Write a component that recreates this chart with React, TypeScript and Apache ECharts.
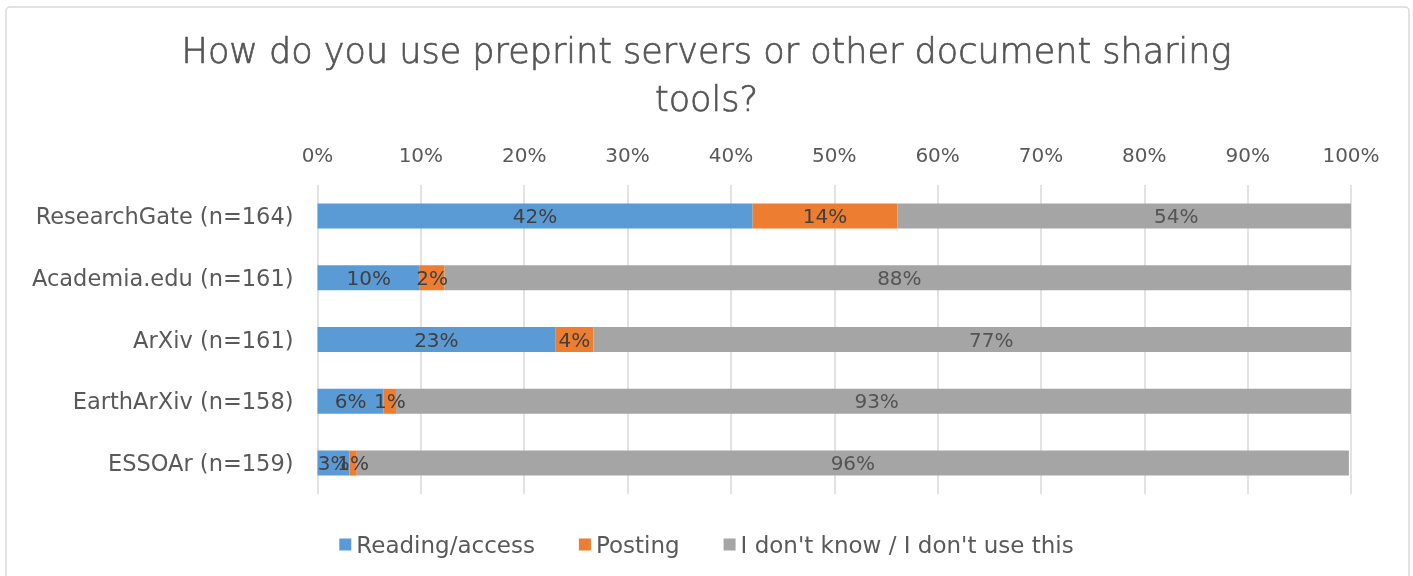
import React, { useEffect, useRef } from "react";
import * as echarts from "echarts";

const categories = [
  "ResearchGate (n=164)",
  "Academia.edu (n=161)",
  "ArXiv (n=161)",
  "EarthArXiv (n=158)",
  "ESSOAr (n=159)",
];
const reading = [42.1, 9.9, 23.0, 6.4, 3.1];
const posting = [14.0, 2.4, 3.7, 1.2, 0.7];
const dontUse = [54, 88, 77, 93, 96];
const seriesNames = ["Reading/access", "Posting", "I don't know / I don't use this"];
const titleText = "How do you use preprint servers or other document sharing\ntools?";

const FONT = "DejaVu Sans";
const TEXT = "#595959";
const LABEL = "#404040";

export default function App() {
  const ref = useRef<HTMLDivElement>(null);
  useEffect(() => {
    if (!ref.current) return;
    const chart = echarts.init(ref.current, undefined, { renderer: "svg" });
    const fmt = (p: any) => Math.round(Array.isArray(p.value) ? p.value[2] : p.value) + "%";
    const grayLabelPoints = categories.map((c, i) => [
      reading[i] + posting[i] + dontUse[i] / 2,
      i,
      dontUse[i],
    ]);
    const barLabel = {
      show: true,
      position: "inside",
      color: LABEL,
      fontFamily: FONT,
      fontSize: 20,
      formatter: fmt,
    };
    chart.setOption({
      animation: false,
      graphic: [
        {
          type: "rect",
          shape: { x: 6, y: 7, width: 1403, height: 580, r: 4 },
          style: { fill: "#fff", stroke: "#D9D9D9", lineWidth: 1.5 },
          z: -10,
        },
      ],
      title: {
        text: titleText,
        left: "center",
        top: 22,
        textStyle: {
          fontFamily: FONT,
          fontWeight: 200,
          fontSize: 35,
          color: "#555555",
          textBorderColor: "#555555",
          textBorderWidth: 0.7,
          lineHeight: 48,
        },
      },
      legend: {
        bottom: 15,
        left: "center",
        itemWidth: 12,
        itemHeight: 12,
        itemGap: 44,
        icon: "rect",
        textStyle: { fontFamily: FONT, fontSize: 23, color: TEXT },
        data: seriesNames,
      },
      grid: { left: 317.5, right: 62, top: 185, height: 309, containLabel: false },
      xAxis: {
        type: "value",
        position: "top",
        min: 0,
        max: 100,
        interval: 10,
        axisLine: { show: false },
        axisTick: { show: false },
        axisLabel: {
          formatter: "{value}%",
          fontFamily: FONT,
          fontSize: 20,
          color: TEXT,
          margin: 20,
        },
        splitLine: { lineStyle: { color: "#D9D9D9", width: 1.5 } },
      },
      yAxis: {
        type: "category",
        inverse: true,
        data: categories,
        axisLine: { show: false },
        axisTick: { show: false },
        axisLabel: { fontFamily: FONT, fontSize: 22.5, color: TEXT, margin: 24 },
      },
      series: [
        {
          name: seriesNames[0],
          type: "bar",
          stack: "s",
          barWidth: 25,
          data: reading,
          itemStyle: { color: "#5B9BD5" },
          label: barLabel,
        },
        {
          name: seriesNames[1],
          type: "bar",
          stack: "s",
          barWidth: 25,
          data: posting,
          itemStyle: { color: "#ED7D31" },
          label: barLabel,
        },
        {
          name: seriesNames[2],
          type: "bar",
          stack: "s",
          barWidth: 25,
          data: dontUse,
          itemStyle: { color: "#A5A5A5" },
          label: { show: false },
        },
        {
          name: "grayLabels",
          type: "scatter",
          symbolSize: 0,
          silent: true,
          data: grayLabelPoints,
          z: 10,
          label: {
            show: true,
            position: "inside",
            color: LABEL,
            fontFamily: FONT,
            fontSize: 20,
            formatter: fmt,
          },
        },
      ],
    });
    return () => chart.dispose();
  }, []);
  return (
    <div
      ref={ref}
      style={{ position: "fixed", left: 0, top: 0, width: 1413, height: 576 }}
    />
  );
}
